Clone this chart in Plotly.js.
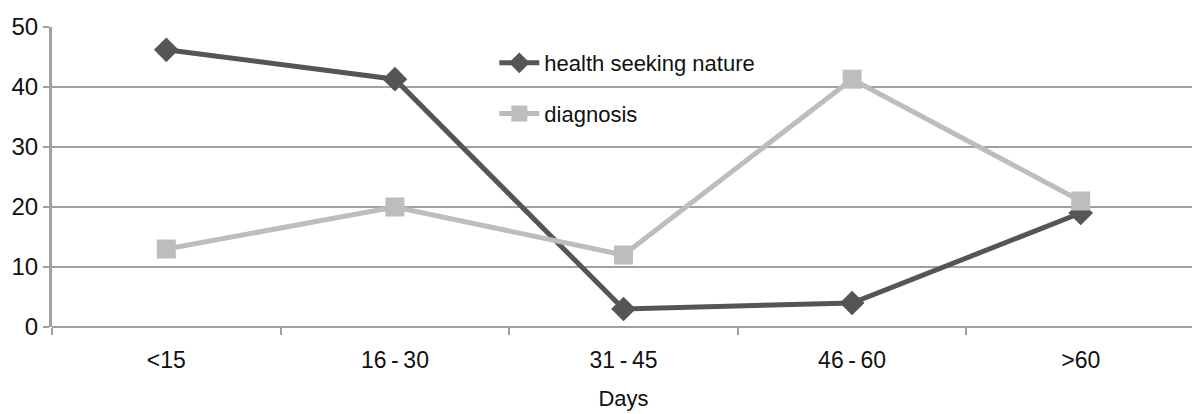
<!DOCTYPE html>
<html>
<head>
<meta charset="utf-8">
<script src="https://cdn.plot.ly/plotly-3.0.1.min.js"></script>
<style>
html,body{margin:0;padding:0;overflow:hidden;background:#fff;}
#chart{width:1195px;height:414px;}
</style>
</head>
<body>
<div id="chart"></div>
<script>
const categories = ["<15", "16-30", "31-45", "46-60", ">60"];
const tickLabels = ["<15", "16\u2009-\u200930", "31\u2009-\u200945", "46\u2009-\u200960", ">60"];
const healthSeeking = [46.2, 41.3, 3, 4, 19];
const diagnosis = [13, 20, 12, 41.3, 21];
const xTitle = "Days";

const FONT = "'Liberation Sans', Arial, sans-serif";

const traces = [
  {
    x: categories, y: healthSeeking, name: "health seeking nature",
    type: "scatter", mode: "lines+markers", legendgroup: "a",
    line: {color: "#555555", width: 5},
    marker: {symbol: "diamond", size: 19, color: "#555555"}
  },
  {
    x: categories, y: diagnosis, name: "diagnosis",
    type: "scatter", mode: "lines+markers", legendgroup: "b",
    line: {color: "#bdbdbd", width: 5},
    marker: {symbol: "square", size: 19, color: "#bdbdbd"}
  }
];

const layout = {
  width: 1195, height: 414,
  margin: {l: 52, r: 0, t: 27, b: 87},
  paper_bgcolor: "#fff", plot_bgcolor: "#fff",
  font: {family: FONT, size: 22, color: "#111"},
  showlegend: true,
  legend: {
    x: 0.387, y: 0.95, xanchor: "left", yanchor: "top",
    bgcolor: "rgba(0,0,0,0)", borderwidth: 0,
    font: {family: FONT, size: 22, color: "#111"},
    tracegroupgap: 19, itemwidth: 40
  },
  xaxis: {
    type: "category", range: [-0.5, 4.5],
    tickvals: categories, ticktext: tickLabels,
    showgrid: false, zeroline: false,
    showline: false,
    ticks: "outside", ticklen: 7, tickcolor: "#a0a0a0", tickwidth: 2,
    tickson: "boundaries",
    ticklabelstandoff: 17,
    tickfont: {family: FONT, size: 23, color: "#111"},
    title: {text: xTitle, font: {family: FONT, size: 22, color: "#111"}, standoff: 18}
  },
  yaxis: {
    range: [0, 50], dtick: 10,
    showgrid: true, gridcolor: "#a0a0a0", gridwidth: 2,
    zeroline: true, zerolinecolor: "#a0a0a0", zerolinewidth: 2.5,
    showline: true, linecolor: "#a0a0a0", linewidth: 3,
    ticks: "outside", ticklen: 6, tickcolor: "#a0a0a0", tickwidth: 2,
    tickfont: {family: FONT, size: 24, color: "#111"},
    fixedrange: true
  }
};

Plotly.newPlot("chart", traces, layout, {displayModeBar: false, staticPlot: true});
</script>
</body>
</html>
